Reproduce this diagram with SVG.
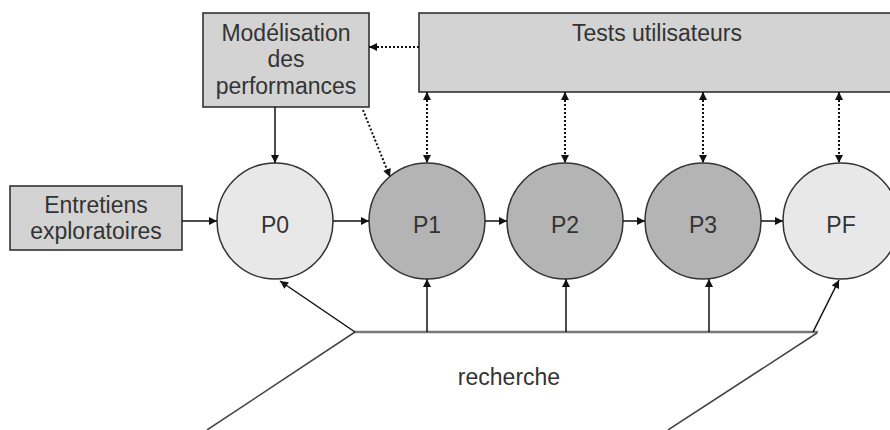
<svg xmlns="http://www.w3.org/2000/svg" width="890" height="430" viewBox="0 0 890 430">
<style>
text{font-family:"Liberation Sans",Arial,sans-serif;font-size:23px;fill:#333;text-anchor:middle}
.box{fill:#d3d3d3;stroke:#333;stroke-width:1.6}
.light{fill:#e8e8e8;stroke:#333;stroke-width:1.5}
.dark{fill:#b4b4b4;stroke:#333;stroke-width:1.5}
.solid{stroke:#111;stroke-width:1.5;fill:none}
.dot{stroke:#111;stroke-width:2;stroke-dasharray:2 2;fill:none}
.base{stroke:#777;stroke-width:2.5;fill:none}
.diag{stroke:#444;stroke-width:1.5;fill:none}
</style>
<defs>
<marker id="ah" viewBox="0 0 10 10" refX="10" refY="5" markerWidth="9" markerHeight="8" orient="auto-start-reverse" markerUnits="userSpaceOnUse">
<path d="M0,0 L10,5 L0,10 z" fill="#111"/>
</marker>
</defs>
<rect width="890" height="430" fill="#fff"/>
<g id="modelisation">
<rect class="box" x="203" y="13" width="166" height="94"/>
<text x="286" y="41">Modélisation</text>
<text x="286" y="67">des</text>
<text x="286" y="94">performances</text>
</g>
<g id="tests">
<rect class="box" x="419" y="13" width="480" height="79"/>
<text x="657" y="41">Tests utilisateurs</text>
</g>
<g id="entretiens">
<rect class="box" x="10" y="186" width="172" height="64"/>
<text x="96" y="213">Entretiens</text>
<text x="96" y="239">exploratoires</text>
</g>
<g id="p0"><circle class="light" cx="275" cy="221" r="58"/><text x="275" y="233">P0</text></g>
<g id="p1"><circle class="dark" cx="427" cy="221" r="58"/><text x="427" y="233">P1</text></g>
<g id="p2"><circle class="dark" cx="565" cy="221" r="58"/><text x="565" y="233">P2</text></g>
<g id="p3"><circle class="dark" cx="703" cy="221" r="58"/><text x="703" y="233">P3</text></g>
<g id="pf"><circle class="light" cx="841" cy="221" r="58"/><text x="841" y="233">PF</text></g>
<g id="recherche">
<path class="base" d="M355,332 H818"/>
<path class="diag" d="M355,332 L207,430"/>
<path class="diag" d="M817,333 L668,430"/>
<text x="509" y="385">recherche</text>
</g>
<g id="connectors">
<path class="solid" d="M182,221 H217" marker-end="url(#ah)"/>
<path class="solid" d="M333,221 H369" marker-end="url(#ah)"/>
<path class="solid" d="M485,221 H507" marker-end="url(#ah)"/>
<path class="solid" d="M623,221 H645" marker-end="url(#ah)"/>
<path class="solid" d="M761,221 H783" marker-end="url(#ah)"/>
<path class="solid" d="M275,107 V163" marker-end="url(#ah)"/>
<path class="dot" d="M419,47 H369" marker-end="url(#ah)"/>
<path class="dot" d="M363,110 L390,177" marker-end="url(#ah)"/>
<path class="dot" d="M427,92 V163" marker-start="url(#ah)" marker-end="url(#ah)"/>
<path class="dot" d="M565,92 V163" marker-start="url(#ah)" marker-end="url(#ah)"/>
<path class="dot" d="M703,92 V163" marker-start="url(#ah)" marker-end="url(#ah)"/>
<path class="dot" d="M839,92 V163" marker-start="url(#ah)" marker-end="url(#ah)"/>
<path class="solid" d="M355,332 L280,281" marker-end="url(#ah)"/>
<path class="solid" d="M813,332 L839,280" marker-end="url(#ah)"/>
<path class="solid" d="M427,332 V279" marker-end="url(#ah)"/>
<path class="solid" d="M566,332 V279" marker-end="url(#ah)"/>
<path class="solid" d="M709,332 V279" marker-end="url(#ah)"/>
</g>
</svg>
